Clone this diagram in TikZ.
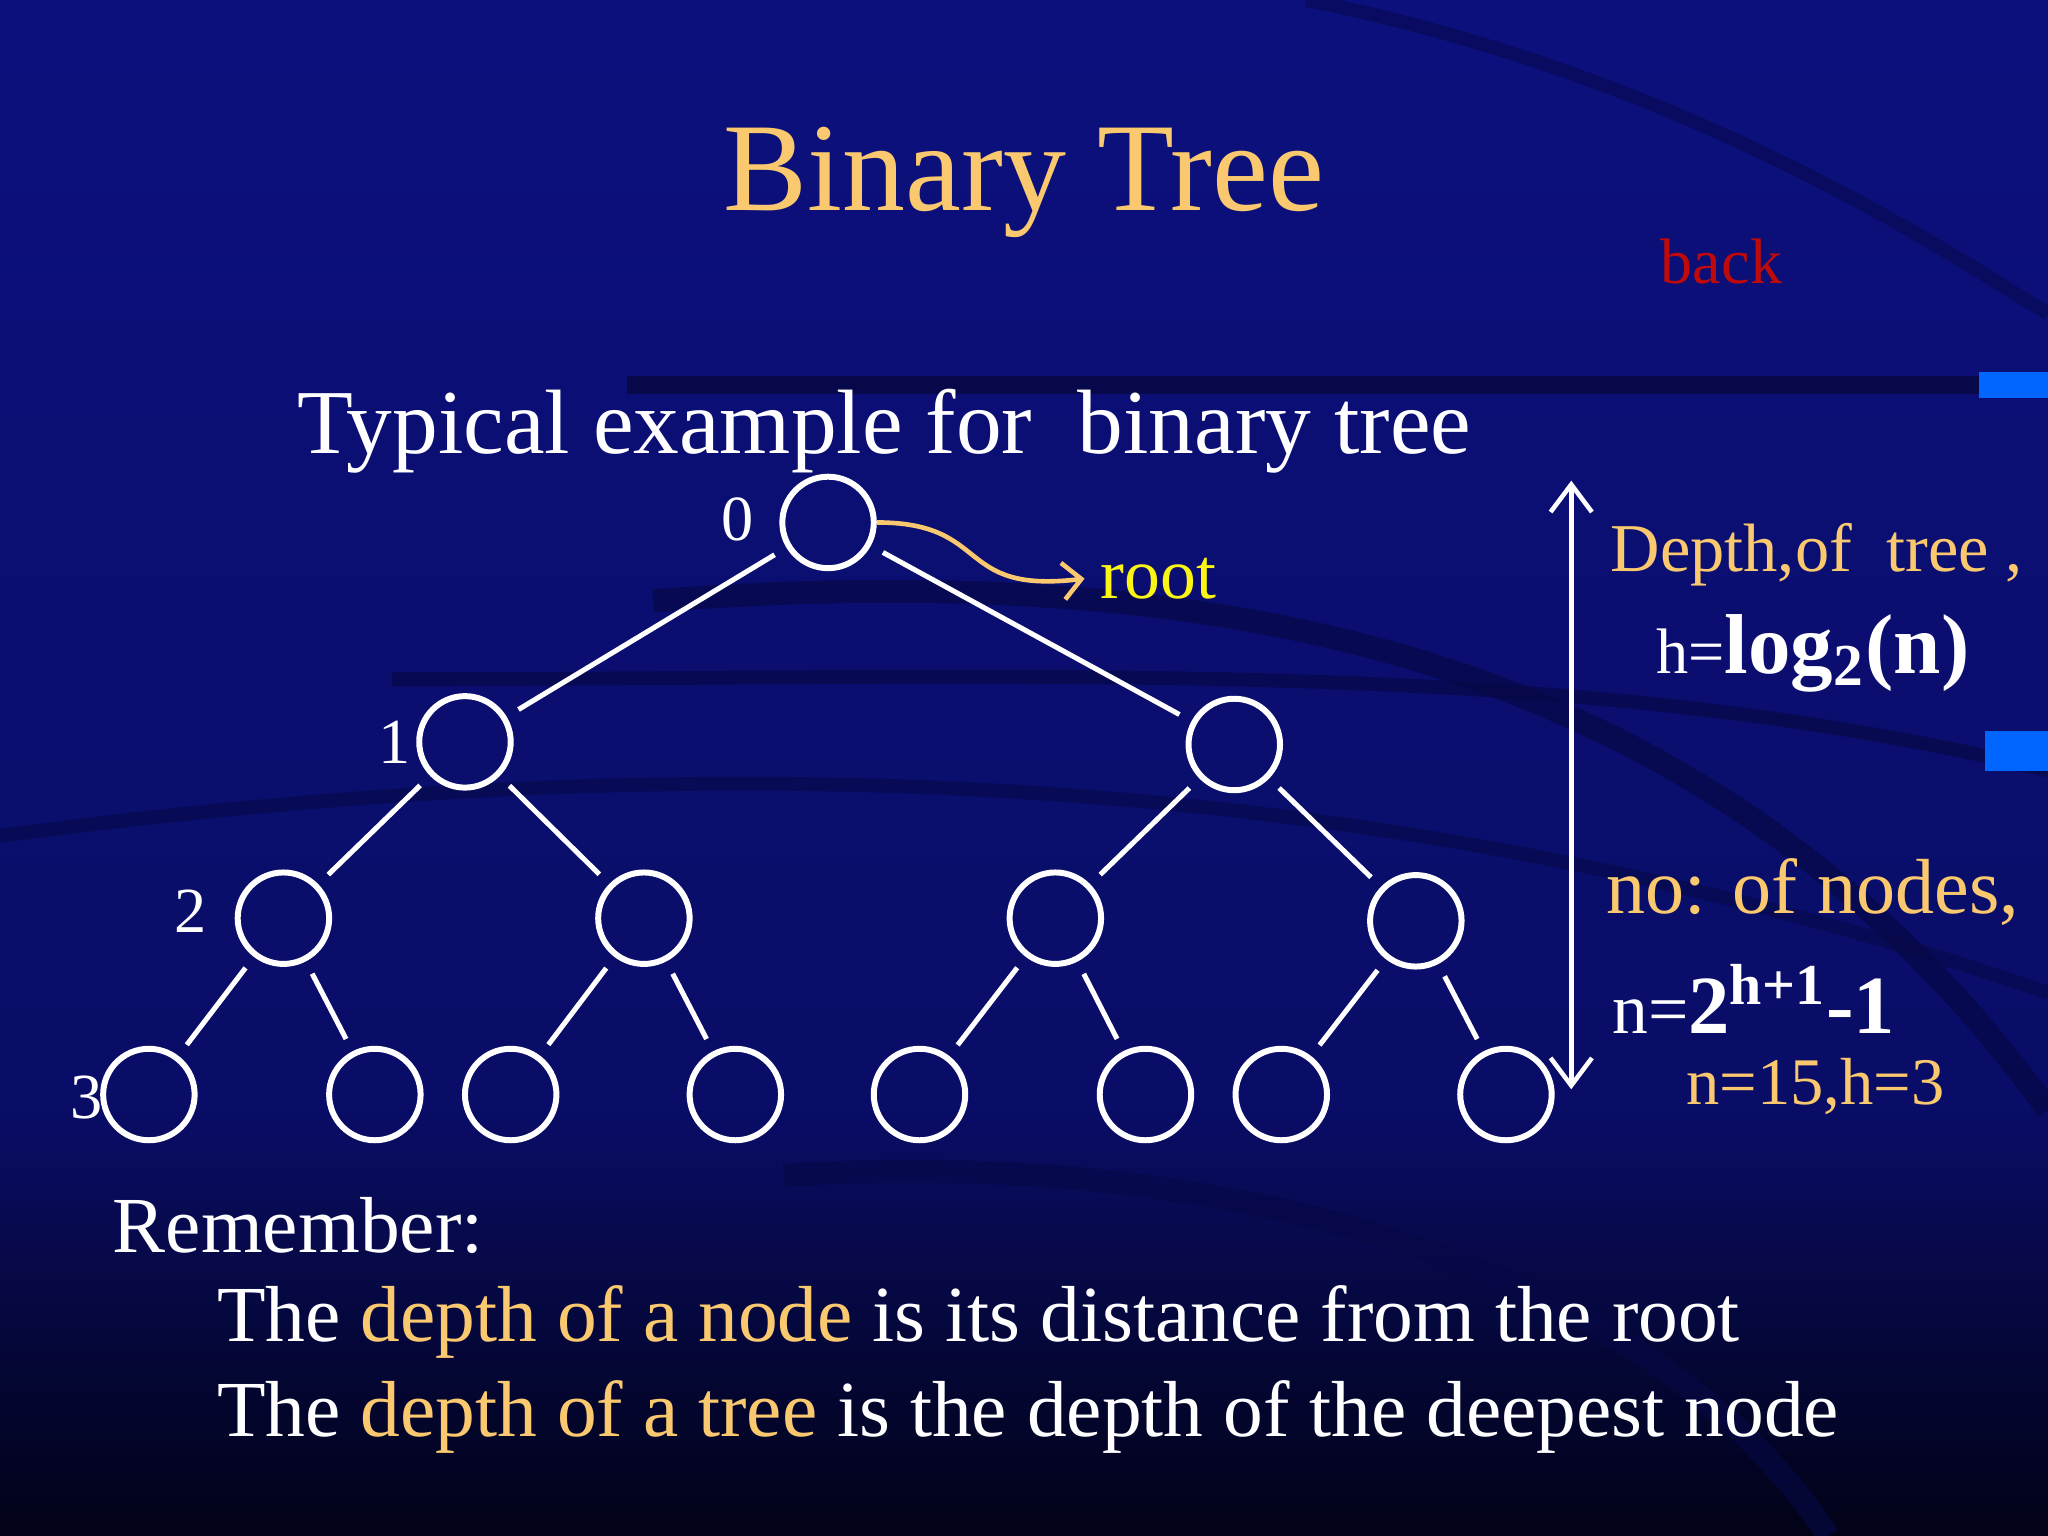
\documentclass[tikz,border=0pt]{standalone}
\usepackage{fontspec}
\setmainfont{Liberation Serif}
\usetikzlibrary{arrows.meta,fadings}
\definecolor{bgblue}{RGB}{12,16,125}
\definecolor{gold}{RGB}{250,200,110}
\definecolor{rootyel}{RGB}{250,245,20}
\definecolor{backred}{RGB}{190,10,10}
\definecolor{band}{RGB}{6,8,70}
\tikzset{
  tn/.style={circle,draw=white,line width=1.3pt,minimum size=0.70cm,inner sep=0pt},
  edge/.style={white,line width=1.1pt,shorten <=3pt,shorten >=3pt},
  lbl/.style={white,font=\fontsize{14}{16}\selectfont},
}
\begin{document}
\begin{tikzpicture}[x=0.01cm,y=-0.01cm]
\useasboundingbox (0,0) rectangle (1568,1176);
\shade[top color=bgblue,bottom color=bgblue!75!black] (0,0) rectangle (1568,1176);
\fill[black,path fading=north,opacity=0.75] (0,850) rectangle (1568,1176);
% background bands
\draw[band,line width=4pt,opacity=0.9] (480,295) -- (1515,295);
\fill[blue!60!cyan] (1515,285) rectangle (1568,305);
\draw[band,line width=3pt,opacity=0.7] (300,520) .. controls (800,520) and (1200,500) .. (1568,590);
\fill[blue!60!cyan] (1520,560) rectangle (1568,590);
\draw[band,line width=5pt,opacity=0.7] (500,460) .. controls (900,430) and (1300,480) .. (1568,850);
\draw[band,line width=3pt,opacity=0.6] (0,640) .. controls (600,560) and (1100,600) .. (1568,760);
\draw[band,line width=5pt,opacity=0.6] (600,900) .. controls (900,880) and (1250,950) .. (1400,1176);
\draw[band,line width=3pt,opacity=0.5] (1000,0) .. controls (1300,60) and (1500,200) .. (1568,240);
% texts
\node[gold,font=\fontsize{27.4}{30}\selectfont] (title) at (784,140) {Binary Tree};
\node[backred,font=\fontsize{14}{16}\selectfont] (back) at (1318,200) {back};
\node[white,font=\fontsize{19.9}{22}\selectfont] (typ) at (677,330) {Typical example for\ \ binary tree};
% tree
\node[tn] (r) at (634,400) {};
\node[tn] (a) at (356,568) {};
\node[tn] (b) at (945,570) {};
\node[tn] (c) at (217,703) {};
\node[tn] (d) at (493,703) {};
\node[tn] (e) at (808,703) {};
\node[tn] (f) at (1084,705) {};
\foreach \n/\x in {g/114,h/287,i/391,j/563,k/704,l/877,m/981,o/1153}
  \node[tn] (\n) at (\x,838) {};
\foreach \p/\q in {r/a,r/b,a/c,a/d,b/e,b/f,c/g,c/h,d/i,d/j,e/k,e/l,f/m,f/o}
  \draw[edge] (\p) -- (\q);
\node[lbl] (l0) at (565,398) {0};
\node[lbl] (l1) at (302,568) {1};
\node[lbl] (l2) at (146,698) {2};
\node[lbl] (l3) at (66,840) {3};
\node[rootyel,font=\fontsize{15.6}{18}\selectfont] (root) at (887,443) {root};
\draw[gold,line width=1pt,-{Straight Barb[length=4pt]}] (r.east) .. controls (760,400) and (730,455) .. (root.west);
% right side
\coordinate (dt) at (1203,368);
\coordinate (db) at (1203,834);
\draw[white,line width=1pt,{Straight Barb[length=6pt,width=9pt]}-{Straight Barb[length=6pt,width=9pt]}] (dt) -- (db);
\node[gold,font=\fontsize{14.9}{16}\selectfont] (dep) at (1391,425) {Depth,of\ \ tree ,};
\node[white,font=\fontsize{14}{16}\selectfont] (hf) at (1388,500) {h=\textbf{\fontsize{18.5}{20}\selectfont log\textsubscript{2}(n)}};
\node[gold,font=\fontsize{17}{19}\selectfont] (non) at (1388,683) {no: of nodes,};
\node[white,font=\fontsize{15.6}{18}\selectfont,anchor=west] (nf) at (1222,765) {n=\textbf{\fontsize{18}{20}\selectfont 2\textsuperscript{h+1}-1}};
\node[gold,font=\fontsize{14.5}{16}\selectfont] (nh) at (1390,832) {n=15,h=3};
% remember
\node[white,font=\fontsize{17.3}{20}\selectfont,anchor=west] (rem) at (74,938) {Remember:};
\node[white,font=\fontsize{17.3}{20}\selectfont,anchor=west] (s1) at (154,1012) {The \textcolor{gold}{depth of a node} is its distance from the root};
\node[white,font=\fontsize{17.3}{20}\selectfont,anchor=west] (s2) at (154,1085) {The \textcolor{gold}{depth of a tree} is the depth of the deepest node};
\end{tikzpicture}
\end{document}
